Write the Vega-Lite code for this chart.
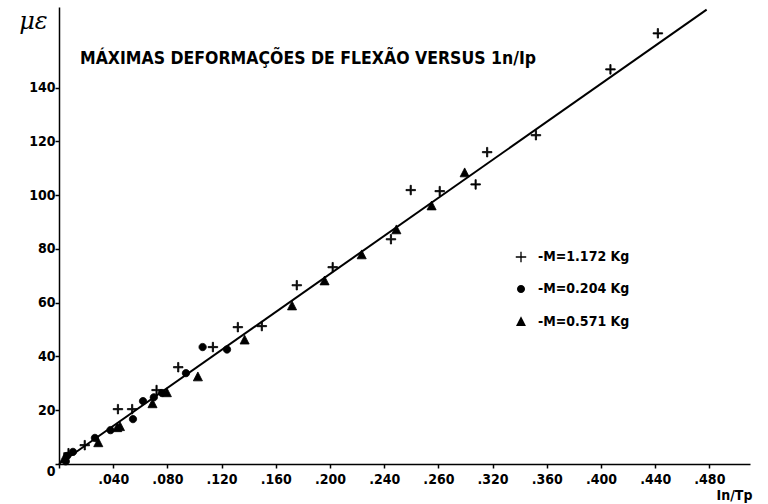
{
  "$schema": "https://vega.github.io/schema/vega-lite/v6.json",
  "width": 691,
  "height": 457,
  "autosize": {"type": "none"},
  "padding": {"left": 59, "top": 7, "right": 18, "bottom": 40},
  "background": "white",
  "config": {
    "view": {"stroke": null},
    "font": "DejaVu Sans Condensed",
    "axis": {"domainColor": "black", "domainWidth": 1.5, "tickColor": "black", "tickWidth": 1.5, "grid": false, "labelColor": "black", "labelFont": "DejaVu Sans Condensed", "labelFontSize": 14, "labelFontWeight": "bold", "titleColor": "black"},
    "legend": {"orient": "none", "legendX": 455, "legendY": 243, "title": null, "padding": 0, "rowPadding": 18, "labelFont": "DejaVu Sans Condensed", "labelFontSize": 14, "labelFontWeight": "bold", "labelColor": "black", "labelOffset": 10, "symbolSize": 90, "symbolFillColor": "black", "symbolStrokeColor": "black", "symbolStrokeWidth": 0.8}
  },
  "title": {
    "text": "MÁXIMAS DEFORMAÇÕES DE FLEXÃO VERSUS 1n/Ip",
    "anchor": "start",
    "frame": "group",
    "orient": "top",
    "offset": 0,
    "dx": 21,
    "dy": 62,
    "font": "DejaVu Sans Condensed",
    "fontSize": 17.5,
    "fontWeight": "bold",
    "color": "black"
  },
  "layer": [
    {
      "data": {"values": [{"x": 0, "y": 0}, {"x": 0.478, "y": 169}]},
      "mark": {"type": "line", "color": "black", "strokeWidth": 2},
      "encoding": {
        "x": {"field": "x", "type": "quantitative"},
        "y": {"field": "y", "type": "quantitative"}
      }
    },
    {
      "data": {"values": [
        {"x": 0.007, "y": 4.0, "s": "-M=1.172 Kg"},
        {"x": 0.019, "y": 7.0, "s": "-M=1.172 Kg"},
        {"x": 0.0435, "y": 20.4, "s": "-M=1.172 Kg"},
        {"x": 0.054, "y": 20.4, "s": "-M=1.172 Kg"},
        {"x": 0.072, "y": 27.5, "s": "-M=1.172 Kg"},
        {"x": 0.088, "y": 36.0, "s": "-M=1.172 Kg"},
        {"x": 0.1136, "y": 43.5, "s": "-M=1.172 Kg"},
        {"x": 0.132, "y": 50.9, "s": "-M=1.172 Kg"},
        {"x": 0.1497, "y": 51.3, "s": "-M=1.172 Kg"},
        {"x": 0.1755, "y": 66.5, "s": "-M=1.172 Kg"},
        {"x": 0.202, "y": 73.2, "s": "-M=1.172 Kg"},
        {"x": 0.245, "y": 83.6, "s": "-M=1.172 Kg"},
        {"x": 0.2596, "y": 101.9, "s": "-M=1.172 Kg"},
        {"x": 0.281, "y": 101.5, "s": "-M=1.172 Kg"},
        {"x": 0.3075, "y": 104.0, "s": "-M=1.172 Kg"},
        {"x": 0.316, "y": 116.0, "s": "-M=1.172 Kg"},
        {"x": 0.352, "y": 122.3, "s": "-M=1.172 Kg"},
        {"x": 0.407, "y": 146.8, "s": "-M=1.172 Kg"},
        {"x": 0.442, "y": 160.2, "s": "-M=1.172 Kg"},
        {"x": 0.005, "y": 1.0, "s": "-M=0.204 Kg"},
        {"x": 0.006, "y": 3.0, "s": "-M=0.204 Kg"},
        {"x": 0.0103, "y": 4.5, "s": "-M=0.204 Kg"},
        {"x": 0.0265, "y": 9.7, "s": "-M=0.204 Kg"},
        {"x": 0.038, "y": 12.6, "s": "-M=0.204 Kg"},
        {"x": 0.0546, "y": 16.7, "s": "-M=0.204 Kg"},
        {"x": 0.062, "y": 23.4, "s": "-M=0.204 Kg"},
        {"x": 0.07, "y": 24.8, "s": "-M=0.204 Kg"},
        {"x": 0.076, "y": 26.4, "s": "-M=0.204 Kg"},
        {"x": 0.0937, "y": 33.8, "s": "-M=0.204 Kg"},
        {"x": 0.106, "y": 43.5, "s": "-M=0.204 Kg"},
        {"x": 0.124, "y": 42.6, "s": "-M=0.204 Kg"},
        {"x": 0.004, "y": 2.0, "s": "-M=0.571 Kg"},
        {"x": 0.029, "y": 7.8, "s": "-M=0.571 Kg"},
        {"x": 0.043, "y": 13.4, "s": "-M=0.571 Kg"},
        {"x": 0.045, "y": 13.8, "s": "-M=0.571 Kg"},
        {"x": 0.069, "y": 22.3, "s": "-M=0.571 Kg"},
        {"x": 0.0796, "y": 26.4, "s": "-M=0.571 Kg"},
        {"x": 0.1025, "y": 32.3, "s": "-M=0.571 Kg"},
        {"x": 0.137, "y": 46.0, "s": "-M=0.571 Kg"},
        {"x": 0.172, "y": 58.7, "s": "-M=0.571 Kg"},
        {"x": 0.196, "y": 68.0, "s": "-M=0.571 Kg"},
        {"x": 0.2234, "y": 77.7, "s": "-M=0.571 Kg"},
        {"x": 0.249, "y": 87.0, "s": "-M=0.571 Kg"},
        {"x": 0.275, "y": 95.9, "s": "-M=0.571 Kg"},
        {"x": 0.2994, "y": 108.2, "s": "-M=0.571 Kg"}
      ]},
      "mark": {"type": "point", "filled": true, "fill": "black", "stroke": "black", "strokeWidth": 0.8, "opacity": 1, "size": 75},
      "encoding": {
        "x": {
          "field": "x", "type": "quantitative",
          "scale": {"domain": [0, 0.51], "nice": false, "zero": false},
          "axis": {
            "values": [0, 0.02, 0.04, 0.06, 0.08, 0.1, 0.12, 0.14, 0.16, 0.18, 0.2, 0.22, 0.24, 0.26, 0.28, 0.3, 0.32, 0.34, 0.36, 0.38, 0.4, 0.42, 0.44, 0.46, 0.48],
            "labelExpr": "(round(datum.value*100) % 4 != 0 || datum.value == 0) ? '' : (round(datum.value*1000) == 280 ? '.260' : '.' + format(datum.value*1000, '03d'))",
            "tickSize": 4,
            "labelPadding": 4,
            "labelFlush": false,
            "title": "In/Tp",
            "titleFont": "DejaVu Sans Condensed",
            "titleFontSize": 14,
            "titleFontWeight": "bold",
            "titleX": 675,
            "titleY": 24,
            "titleAlign": "center",
            "titleBaseline": "top"
          }
        },
        "y": {
          "field": "y", "type": "quantitative",
          "scale": {"domain": [0, 170], "nice": false},
          "axis": {
            "values": [0, 10, 20, 30, 40, 50, 60, 70, 80, 90, 100, 110, 120, 130, 140, 150],
            "labelExpr": "datum.value % 20 == 0 ? datum.label : ''",
            "labelBaseline": {"condition": {"test": "datum.value == 0", "value": "top"}, "value": "middle"},
            "tickSize": 4,
            "labelPadding": 0,
            "title": "με",
            "titleFont": "DejaVu Serif",
            "titleFontSize": 24,
            "titleFontStyle": "italic",
            "titleFontWeight": "normal",
            "titleAngle": 0,
            "titleX": -26,
            "titleY": 14,
            "titleAlign": "center",
            "titleBaseline": "middle"
          }
        },
        "shape": {
          "field": "s", "type": "nominal",
          "scale": {"domain": ["-M=1.172 Kg", "-M=0.204 Kg", "-M=0.571 Kg"], "range": ["M-1.1,-0.14L-0.14,-0.14L-0.14,-1.1L0.14,-1.1L0.14,-0.14L1.1,-0.14L1.1,0.14L0.14,0.14L0.14,1.1L-0.14,1.1L-0.14,0.14L-1.1,0.14Z", "M0.85,0A0.85,0.85,0,1,1,-0.85,0A0.85,0.85,0,1,1,0.85,0Z", "M0,-1.2L1.05,0.85L-1.05,0.85Z"]}
        }
      }
    },
    {
      "mark": {"type": "point", "shape": "triangle-up", "filled": true, "color": "black", "size": 45, "clip": false},
      "encoding": {"x": {"datum": 0}, "y": {"datum": 170}}
    },
    {
      "mark": {"type": "point", "shape": "triangle-right", "filled": true, "color": "black", "size": 45, "clip": false},
      "encoding": {"x": {"datum": 0.51}, "y": {"datum": 0}}
    }
  ]
}
